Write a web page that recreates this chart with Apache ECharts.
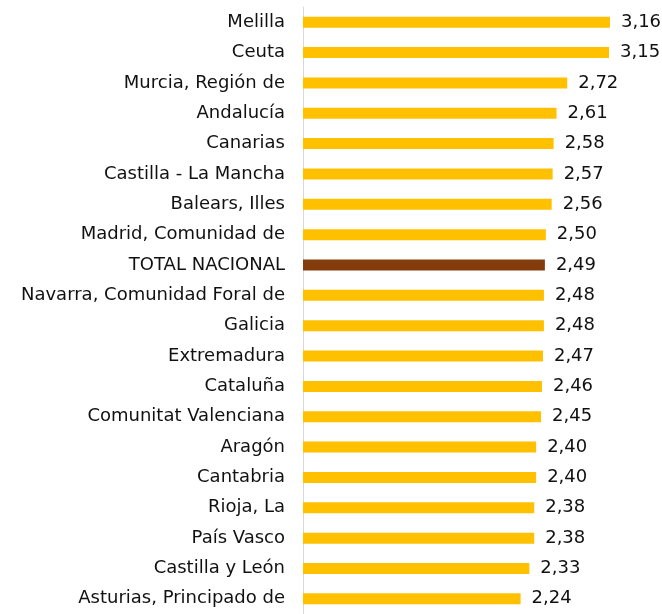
<!DOCTYPE html>
<html><head><meta charset="utf-8">
<script src="https://cdn.jsdelivr.net/npm/echarts@6/dist/echarts.min.js"></script>
<style>html,body{margin:0;padding:0;background:#fff}#c{width:662px;height:614px}</style>
</head><body><div id="c"></div>
<script>
const categories = ["Melilla","Ceuta","Murcia, Región de","Andalucía","Canarias","Castilla - La Mancha","Balears, Illes","Madrid, Comunidad de","TOTAL NACIONAL","Navarra, Comunidad Foral de","Galicia","Extremadura","Cataluña","Comunitat Valenciana","Aragón","Cantabria","Rioja, La","País Vasco","Castilla y León","Asturias, Principado de"];
const values = [3.16,3.15,2.72,2.61,2.58,2.57,2.56,2.50,2.49,2.48,2.48,2.47,2.46,2.45,2.40,2.40,2.38,2.38,2.33,2.24];
const highlight = "TOTAL NACIONAL";

const chart = echarts.init(document.getElementById('c'));
chart.setOption({
  animation:false,
  grid:{left:303, top:7, width:340, height:612, containLabel:false},
  xAxis:{type:'value', min:0, max:3.5, show:false},
  yAxis:{type:'category', data:categories, inverse:true,
    axisLine:{show:true, lineStyle:{color:'#d9d9d9', width:1}},
    axisTick:{show:false},
    axisLabel:{margin:18, fontFamily:'DejaVu Sans', fontSize:18, color:'#111'}},
  series:[{type:'bar', barWidth:11,
    data: values.map((v,i)=>({value:v, itemStyle:{color: categories[i]===highlight ? '#843C0C' : '#FFC000'}})),
    label:{show:true, position:'right', distance:11, fontFamily:'DejaVu Sans', fontSize:18, color:'#111',
      formatter:p=>p.value.toFixed(2).replace('.',',')}
  }]
});
</script></body></html>
